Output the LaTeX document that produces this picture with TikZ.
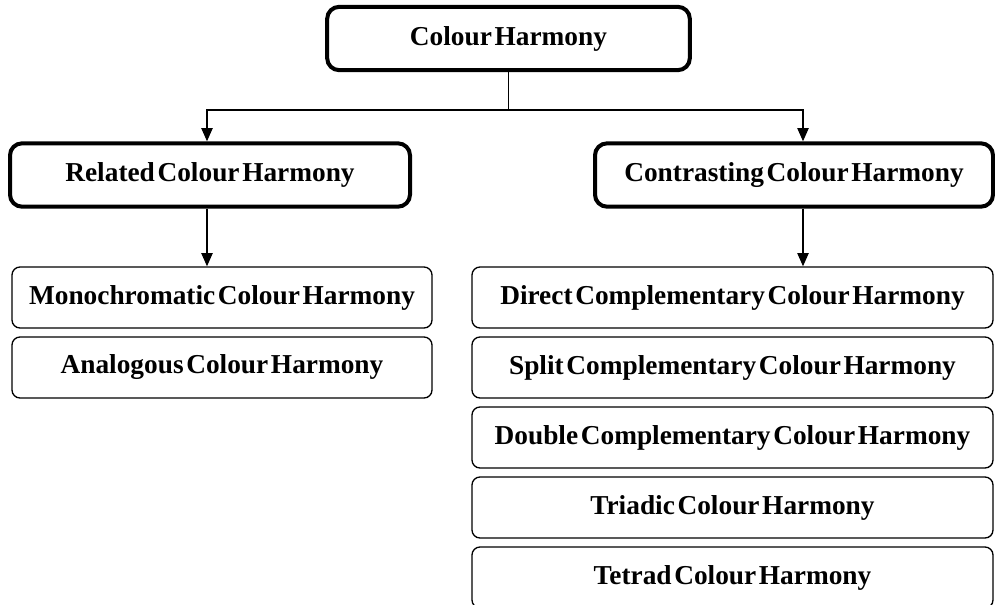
\documentclass[tikz,border=0pt]{standalone}
\usepackage{fontspec}
\setmainfont{Liberation Serif}
\usetikzlibrary{arrows.meta,positioning}
\newcommand\harmfont{\fontsize{20.5}{24}\selectfont\bfseries\spaceskip=2pt plus 1pt\relax}

\begin{document}
\begin{tikzpicture}[x=0.75pt,y=-0.75pt,>={Triangle[length=10pt,width=8.5pt]},
  mainbox/.style={draw,line width=3pt,rounded corners=9pt,minimum height=47.5pt,
        align=center,font=\harmfont},
  subbox/.style={draw,line width=1pt,rounded corners=6pt,minimum height=45.75pt,
        align=center,font=\harmfont},
  link/.style={line width=1.1pt}]
  \useasboundingbox (0,0) rectangle (995,604);
  \node[mainbox,minimum width=272pt] (harmony) at (508.5,38.5) {Colour Harmony};
  \node[mainbox,minimum width=300pt] (related) at (210,175) {Related Colour Harmony};
  \node[mainbox,minimum width=298.5pt] (contrast) at (794,175) {Contrasting Colour Harmony};
  % related branch
  \node[subbox,minimum width=315pt] (mono) at (222,297.5) {Monochromatic Colour Harmony};
  \node[subbox,minimum width=315pt] (analog) at (222,367.5) {Analogous Colour Harmony};
  % contrasting branch
  \node[subbox,minimum width=390.75pt] (direct) at (732.5,297.5) {Direct Complementary Colour Harmony};
  \node[subbox,minimum width=390.75pt] (splitc) at (732.5,367.5) {Split Complementary Colour Harmony};
  \node[subbox,minimum width=390.75pt] (double) at (732.5,437.5) {Double Complementary Colour Harmony};
  \node[subbox,minimum width=390.75pt] (triad) at (732.5,507.5) {Triadic Colour Harmony};
  \node[subbox,minimum width=390.75pt] (tetrad) at (732.5,577.5) {Tetrad Colour Harmony};
  % connectors
  \coordinate (fork) at (508.5,110);
  \draw[link] (harmony.south) -- (fork);
  \draw[link,->] (fork) -| ([xshift=-2.25pt]related.north);
  \draw[link,->] (fork) -| ([xshift=6.75pt]contrast.north);
  \draw[link,->] ([xshift=-2.25pt]related.south) -- ([xshift=-2.25pt]related.south |- mono.north);
  \draw[link,->] ([xshift=6.75pt]contrast.south) -- ([xshift=6.75pt]contrast.south |- direct.north);
\end{tikzpicture}
\end{document}
